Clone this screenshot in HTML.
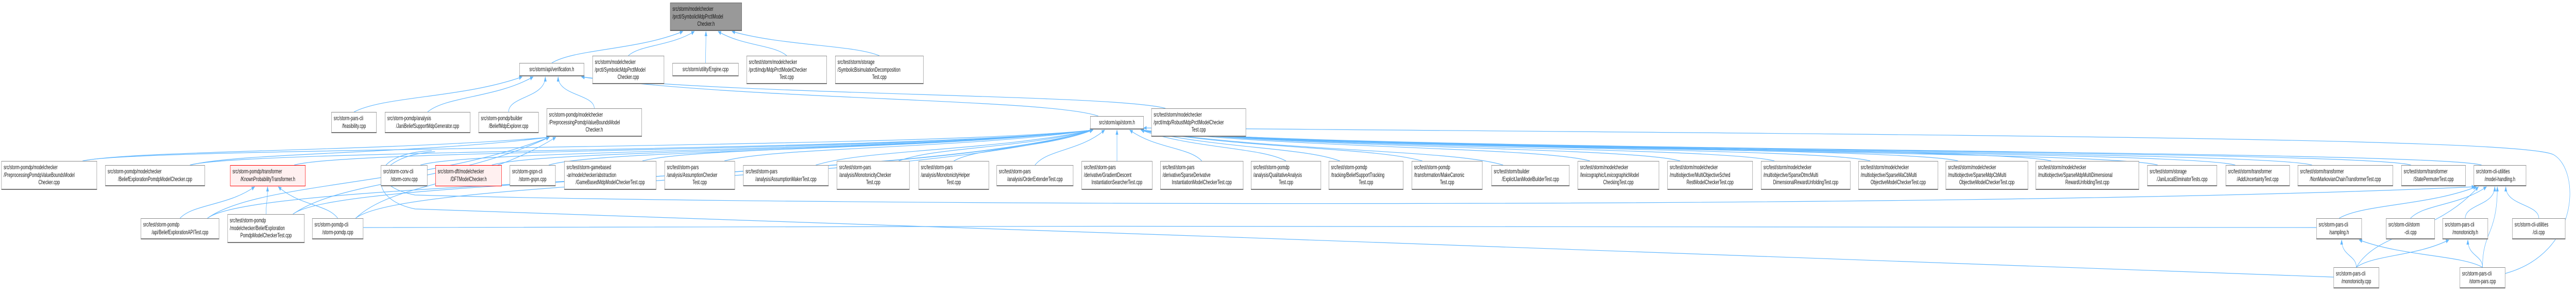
<!DOCTYPE html>
<html><head><meta charset="utf-8">
<style>
html,body{margin:0;padding:0;background:#fff;overflow:hidden;}
#wrap{width:7757px;height:564px;position:absolute;left:0;top:0;transform-origin:0 0;font-family:"Liberation Sans","DejaVu Sans",sans-serif;}
.n{position:absolute;box-sizing:border-box;background:#fff;border:1px solid #8a8a8a;border-bottom:2px solid #777;border-right:1.5px solid #888;font-size:11.6px;line-height:14.5px;color:#111;padding:5px 6px 0 6px;white-space:nowrap;overflow:visible;}
.n div{text-align:left;}
.n div.c{text-align:center;}
.red{border:1.5px solid #f00;background:#fff0f0;}
.root{background:#999;border-color:#666;}
svg{position:absolute;left:0;top:0;}
</style></head><body>
<div id="wrap">
<svg id="s" width="7757" height="564" viewBox="0 0 7757 564">
<defs><marker id="a" markerWidth="10" markerHeight="8" refX="9" refY="4" orient="auto" markerUnits="userSpaceOnUse"><path d="M0,0 L10,4 L0,8 z" fill="#63b8ff"/></marker></defs>
<g id="g" fill="none" stroke="#63b8ff" stroke-width="1.2"></g>
</svg>

<div class="n root" id="root" style="left:2018px;top:5px;width:216px;height:55px"><div>src/storm/modelchecker</div><div>/prctl/SymbolicMdpPrctlModel</div><div class="c">Checker.h</div></div>

<div class="n" id="verif" style="left:1564px;top:122px;width:195px;height:26px"><div class="c">src/storm/api/verification.h</div></div>
<div class="n" id="symcpp" style="left:1784px;top:108px;width:216px;height:55px"><div>src/storm/modelchecker</div><div>/prctl/SymbolicMdpPrctlModel</div><div class="c">Checker.cpp</div></div>
<div class="n" id="engine" style="left:2025px;top:122px;width:199px;height:26px"><div class="c">src/storm/utility/Engine.cpp</div></div>
<div class="n" id="mdptest" style="left:2248px;top:108px;width:242px;height:55px"><div>src/test/storm/modelchecker</div><div>/prctl/mdp/MdpPrctlModelChecker</div><div class="c">Test.cpp</div></div>
<div class="n" id="bisim" style="left:2515px;top:108px;width:266px;height:55px"><div>src/test/storm/storage</div><div>/SymbolicBisimulationDecomposition</div><div class="c">Test.cpp</div></div>

<div class="n" id="feas" style="left:998px;top:217px;width:136px;height:41px"><div>src/storm-pars-cli</div><div class="c">/feasibility.cpp</div></div>
<div class="n" id="jani" style="left:1159px;top:217px;width:257px;height:41px"><div>src/storm-pomdp/analysis</div><div class="c">/JaniBeliefSupportMdpGenerator.cpp</div></div>
<div class="n" id="bmdp" style="left:1441px;top:217px;width:181px;height:41px"><div>src/storm-pomdp/builder</div><div class="c">/BeliefMdpExplorer.cpp</div></div>
<div class="n" id="prepH" style="left:1646px;top:210px;width:287px;height:55px"><div>src/storm-pomdp/modelchecker</div><div>/PreprocessingPomdpValueBoundsModel</div><div class="c">Checker.h</div></div>
<div class="n" id="stormH" style="left:3283px;top:225px;width:161px;height:26px"><div class="c">src/storm/api/storm.h</div></div>
<div class="n" id="robust" style="left:3467px;top:210px;width:285px;height:55px"><div>src/test/storm/modelchecker</div><div>/prctl/mdp/RobustMdpPrctlModelChecker</div><div class="c">Test.cpp</div></div>

<div class="n" id="prepC" style="left:4px;top:312px;width:288px;height:56px"><div>src/storm-pomdp/modelchecker</div><div>/PreprocessingPomdpValueBoundsModel</div><div class="c">Checker.cpp</div></div>
<div class="n" id="bexC" style="left:317px;top:320px;width:300px;height:41px"><div>src/storm-pomdp/modelchecker</div><div class="c">/BeliefExplorationPomdpModelChecker.cpp</div></div>
<div class="n red" id="known" style="left:693px;top:320px;width:227px;height:41px"><div>src/storm-pomdp/transformer</div><div class="c">/KnownProbabilityTransformer.h</div></div>
<div class="n" id="conv" style="left:1147px;top:320px;width:140px;height:41px"><div>src/storm-conv-cli</div><div class="c">/storm-conv.cpp</div></div>
<div class="n red" id="dft" style="left:1311px;top:320px;width:200px;height:41px"><div>src/storm-dft/modelchecker</div><div class="c">/DFTModelChecker.h</div></div>
<div class="n" id="gspn" style="left:1535px;top:320px;width:138px;height:41px"><div>src/storm-gspn-cli</div><div class="c">/storm-gspn.cpp</div></div>
<div class="n" id="game" style="left:1699px;top:312px;width:277px;height:56px"><div>src/test/storm-gamebased</div><div>-ar/modelchecker/abstraction</div><div class="c">/GameBasedMdpModelCheckerTest.cpp</div></div>
<div class="n" id="ac" style="left:2001px;top:312px;width:212px;height:56px"><div>src/test/storm-pars</div><div>/analysis/AssumptionChecker</div><div class="c">Test.cpp</div></div>
<div class="n" id="am" style="left:2238px;top:320px;width:257px;height:41px"><div>src/test/storm-pars</div><div class="c">/analysis/AssumptionMakerTest.cpp</div></div>
<div class="n" id="mc" style="left:2520px;top:312px;width:219px;height:56px"><div>src/test/storm-pars</div><div>/analysis/MonotonicityChecker</div><div class="c">Test.cpp</div></div>
<div class="n" id="mh" style="left:2766px;top:312px;width:212px;height:56px"><div>src/test/storm-pars</div><div>/analysis/MonotonicityHelper</div><div class="c">Test.cpp</div></div>
<div class="n" id="oe" style="left:3001px;top:320px;width:231px;height:41px"><div>src/test/storm-pars</div><div class="c">/analysis/OrderExtenderTest.cpp</div></div>
<div class="n" id="gd" style="left:3257px;top:312px;width:213px;height:56px"><div>src/test/storm-pars</div><div>/derivative/GradientDescent</div><div class="c">InstantiationSearcherTest.cpp</div></div>
<div class="n" id="sd" style="left:3494px;top:312px;width:250px;height:56px"><div>src/test/storm-pars</div><div>/derivative/SparseDerivative</div><div class="c">InstantiationModelCheckerTest.cpp</div></div>
<div class="n" id="qa" style="left:3767px;top:312px;width:211px;height:56px"><div>src/test/storm-pomdp</div><div>/analysis/QualitativeAnalysis</div><div class="c">Test.cpp</div></div>
<div class="n" id="bst" style="left:4001px;top:312px;width:225px;height:56px"><div>src/test/storm-pomdp</div><div>/tracking/BeliefSupportTracking</div><div class="c">Test.cpp</div></div>
<div class="n" id="mkc" style="left:4251px;top:312px;width:213px;height:56px"><div>src/test/storm-pomdp</div><div>/transformation/MakeCanonic</div><div class="c">Test.cpp</div></div>
<div class="n" id="ejb" style="left:4491px;top:320px;width:235px;height:41px"><div>src/test/storm/builder</div><div class="c">/ExplicitJaniModelBuilderTest.cpp</div></div>
<div class="n" id="lex" style="left:4751px;top:312px;width:245px;height:56px"><div>src/test/storm/modelchecker</div><div>/lexicographic/LexicographicModel</div><div class="c">CheckingTest.cpp</div></div>
<div class="n" id="mos" style="left:5021px;top:312px;width:257px;height:56px"><div>src/test/storm/modelchecker</div><div>/multiobjective/MultiObjectiveSched</div><div class="c">RestModelCheckerTest.cpp</div></div>
<div class="n" id="sdm" style="left:5303px;top:312px;width:269px;height:56px"><div>src/test/storm/modelchecker</div><div>/multiobjective/SparseDtmcMulti</div><div class="c">DimensionalRewardUnfoldingTest.cpp</div></div>
<div class="n" id="sma" style="left:5596px;top:312px;width:240px;height:56px"><div>src/test/storm/modelchecker</div><div>/multiobjective/SparseMaCbMulti</div><div class="c">ObjectiveModelCheckerTest.cpp</div></div>
<div class="n" id="smc" style="left:5859px;top:312px;width:248px;height:56px"><div>src/test/storm/modelchecker</div><div>/multiobjective/SparseMdpCbMulti</div><div class="c">ObjectiveModelCheckerTest.cpp</div></div>
<div class="n" id="smm" style="left:6130px;top:312px;width:311px;height:56px"><div>src/test/storm/modelchecker</div><div>/multiobjective/SparseMdpMultiDimensional</div><div class="c">RewardUnfoldingTest.cpp</div></div>
<div class="n" id="jle" style="left:6466px;top:320px;width:210px;height:41px"><div>src/test/storm/storage</div><div class="c">/JaniLocalEliminatorTests.cpp</div></div>
<div class="n" id="au" style="left:6702px;top:320px;width:193px;height:41px"><div>src/test/storm/transformer</div><div class="c">/AddUncertaintyTest.cpp</div></div>
<div class="n" id="nm" style="left:6919px;top:320px;width:287px;height:41px"><div>src/test/storm/transformer</div><div class="c">/NonMarkovianChainTransformerTest.cpp</div></div>
<div class="n" id="sp" style="left:7231px;top:320px;width:194px;height:41px"><div>src/test/storm/transformer</div><div class="c">/StatePermuterTest.cpp</div></div>
<div class="n" id="mhd" style="left:7449px;top:320px;width:158px;height:41px"><div>src/storm-cli-utilities</div><div class="c">/model-handling.h</div></div>

<div class="n" id="bapi" style="left:424px;top:423px;width:236px;height:41px"><div>src/test/storm-pomdp</div><div class="c">/api/BeliefExplorationAPITest.cpp</div></div>
<div class="n" id="bpmt" style="left:685px;top:415px;width:232px;height:56px"><div>src/test/storm-pomdp</div><div>/modelchecker/BeliefExploration</div><div class="c">PomdpModelCheckerTest.cpp</div></div>
<div class="n" id="spc" style="left:940px;top:423px;width:154px;height:41px"><div>src/storm-pomdp-cli</div><div class="c">/storm-pomdp.cpp</div></div>
<div class="n" id="samp" style="left:6975px;top:423px;width:137px;height:41px"><div>src/storm-pars-cli</div><div class="c">/sampling.h</div></div>
<div class="n" id="scli" style="left:7185px;top:423px;width:147px;height:41px"><div>src/storm-cli/storm</div><div class="c">-cli.cpp</div></div>
<div class="n" id="monoh" style="left:7355px;top:423px;width:137px;height:41px"><div>src/storm-pars-cli</div><div class="c">/monotonicity.h</div></div>
<div class="n" id="clic" style="left:7565px;top:423px;width:160px;height:41px"><div>src/storm-cli-utilities</div><div class="c">/cli.cpp</div></div>

<div class="n" id="monoc" style="left:7027px;top:518px;width:137px;height:41px"><div>src/storm-pars-cli</div><div class="c">/monotonicity.cpp</div></div>
<div class="n" id="spars" style="left:7407px;top:518px;width:137px;height:41px"><div>src/storm-pars-cli</div><div class="c">/storm-pars.cpp</div></div>
</div>

<script>
(function(){
var w=document.getElementById('wrap');
function fit(){
 var sx=window.innerWidth/7757, sy=window.innerHeight/564;
 if(!(sx>0)||sx>1)sx=1;
 if(!(sy>0)||sy>1)sy=1;
 w.style.transform='scale('+sx+','+sy+')';
}
fit();window.addEventListener('resize',fit);
function B(id){var e=document.getElementById(id);return {x:e.offsetLeft,y:e.offsetTop,w:e.offsetWidth,h:e.offsetHeight};}
var g=document.getElementById('g');
function P(d,arrow){var p=document.createElementNS('http://www.w3.org/2000/svg','path');p.setAttribute('d',d);if(arrow)p.setAttribute('marker-end','url(#a)');g.appendChild(p);}
function E(s,t){
 var a=B(s),b=B(t);
 var scx=a.x+a.w/2,tcx=b.x+b.w/2;
 var dx=scx-tcx;
 var sx=scx, sy=a.y;
 var ty=b.y+b.h+1;
 var off=Math.max(-b.w/2+8,Math.min(b.w/2-8,dx*0.15));
 var tx=tcx+off;
 if(Math.abs(dx)>600){ sx=a.x+a.w/2 - Math.sign(dx)*a.w*0.35; }
 var dy=sy-ty;
 var c1x=sx-Math.sign(dx)*Math.min(150,Math.abs(dx)*0.15), c1y=sy-dy*0.45;
 var c2x=tx+Math.sign(dx)*Math.min(500,Math.abs(dx)*0.3), c2y=ty+dy*0.6;
 if(Math.abs(dx)<200){c1x=sx;c2x=tx;}
 P('M'+sx+','+sy+' C'+c1x+','+c1y+' '+c2x+','+c2y+' '+tx+','+ty,true);
}
['verif','symcpp','engine','mdptest','bisim'].forEach(function(s){E(s,'root');});
['feas','jani','bmdp','prepH','stormH','robust'].forEach(function(s){E(s,'verif');});
['prepC','bexC','spc','bpmt','bapi'].forEach(function(s){E(s,'prepH');});
['prepC','bexC','known','conv','dft','gspn','game','ac','am','mc','mh','oe','gd','sd','qa','bst','mkc','ejb','lex','mos','sdm','sma','smc','smm','jle','au','nm','sp','mhd','bapi','bpmt','spc'].forEach(function(s){E(s,'stormH');});
['bapi','bpmt','spc'].forEach(function(s){E(s,'known');});
['samp','scli','monoh','clic','monoc','spars'].forEach(function(s){E(s,'mhd');});
['monoc','spars'].forEach(function(s){E(s,'samp');E(s,'monoh');});
P('M1300,292 C1120,298 1105,360 1250,378 C2500,400 6000,405 7452,362',true);
P('M1310,294 C1112,302 1098,385 1250,405 C3000,450 6000,500 7027,537',false);
P('M1094,441 C3000,438 6000,436 6975,441',false);
P('M7544,530 C7770,490 7770,330 7690,300 C7600,268 6000,262 3444,248',true);
})();
</script>
</body></html>
